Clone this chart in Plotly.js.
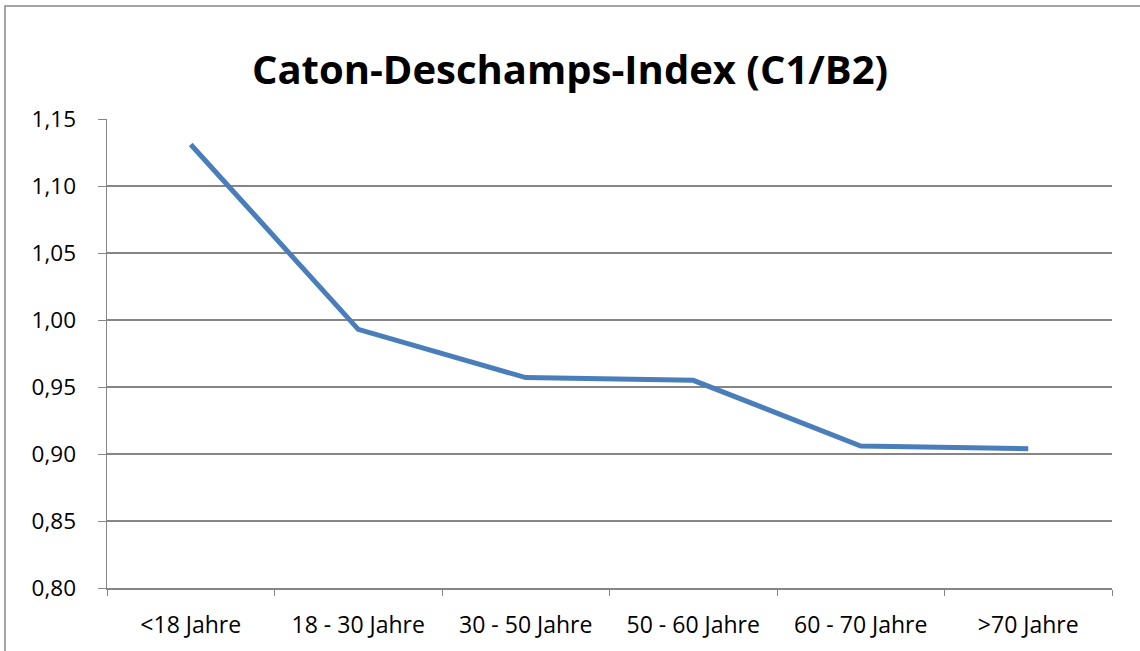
<!DOCTYPE html>
<html>
<head>
<meta charset="utf-8">
<script src="https://cdn.plot.ly/plotly-3.0.1.min.js"></script>
<style>html,body{margin:0;padding:0;background:#fff;}#chart{width:1140px;height:651px;}</style>
</head>
<body>
<div id="chart"></div>
<script>
const categories = ["<18 Jahre", "18 - 30 Jahre", "30 - 50 Jahre", "50 - 60 Jahre", "60 - 70 Jahre", ">70 Jahre"];
const values = [1.131, 0.993, 0.957, 0.955, 0.906, 0.904];
const yTicks = [0.80, 0.85, 0.90, 0.95, 1.00, 1.05, 1.10, 1.15];
const yTickLabels = ["0,80", "0,85", "0,90", "0,95", "1,00", "1,05", "1,10", "1,15"];
const chartTitle = "Caton-Deschamps-Index (C1/B2)";

const trace = {
  x: categories,
  y: values,
  type: "scatter",
  mode: "lines",
  line: {color: "#4a7ebb", width: 5},
  hoverinfo: "skip"
};

const fam = "Open Sans, Liberation Sans, sans-serif";

const layout = {
  width: 1140,
  height: 651,
  margin: {l: 107, r: 28, t: 119, b: 63},
  paper_bgcolor: "#ffffff",
  plot_bgcolor: "#ffffff",
  showlegend: false,
  font: {family: fam, color: "#000000"},
  title: {
    text: "<b>" + chartTitle + "</b>",
    font: {size: 40, family: fam, color: "#000"},
    x: 0.5, xanchor: "center",
    y: 0.893, yanchor: "middle"
  },
  xaxis: {
    type: "category",
    range: [-0.5, 5.5],
    tickson: "boundaries",
    ticks: "outside",
    ticklen: 6,
    tickcolor: "#868686",
    showgrid: false,
    showline: true,
    linecolor: "#868686",
    linewidth: 1.5,
    tickfont: {size: 23, family: fam},
    ticklabelstandoff: 16,
    fixedrange: true
  },
  yaxis: {
    range: [0.8, 1.15],
    tickvals: yTicks,
    ticktext: yTickLabels,
    ticks: "outside",
    ticklen: 8,
    tickcolor: "#868686",
    showgrid: true,
    gridcolor: "#868686",
    gridwidth: 1.2,
    zeroline: false,
    showline: true,
    linecolor: "#868686",
    linewidth: 1.5,
    tickfont: {size: 22.5, family: fam},
    ticklabelstandoff: 17,
    fixedrange: true
  },
  shapes: [{
    type: "rect", xref: "paper", yref: "paper",
    x0: -0.1015, x1: 1.06, y0: -0.2, y1: 1.241,
    line: {color: "#868686", width: 1.5}
  }]
};

Plotly.newPlot("chart", [trace], layout, {displayModeBar: false, staticPlot: true});
</script>
</body>
</html>
